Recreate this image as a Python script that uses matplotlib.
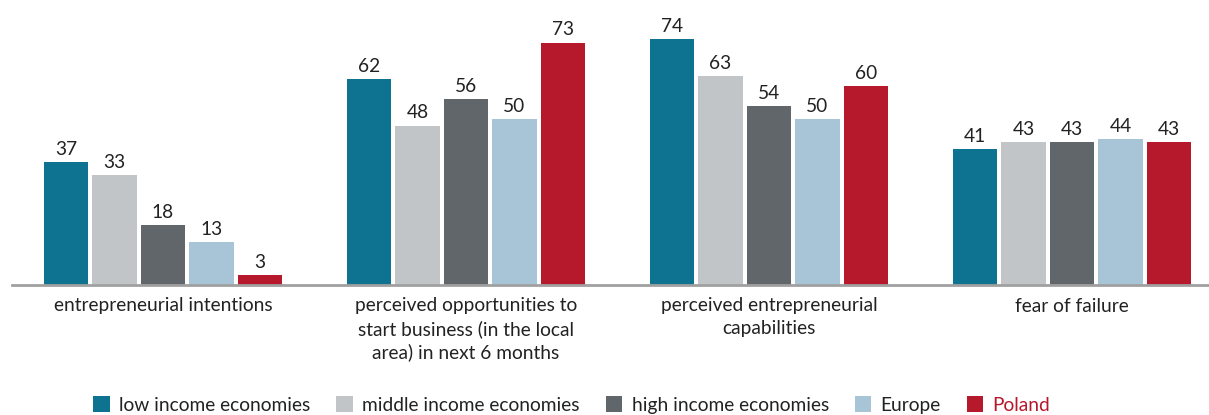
import matplotlib
matplotlib.use("Agg")
import matplotlib.pyplot as plt
import numpy as np
from matplotlib.patches import Patch

plt.rcParams['font.family'] = ['Lato', 'DejaVu Sans']

categories = [
    "entrepreneurial intentions",
    "perceived opportunities to\nstart business (in the local\narea) in next 6 months",
    "perceived entrepreneurial\ncapabilities",
    "fear of failure",
]
series_names = ["low income economies", "middle income economies",
                "high income economies", "Europe", "Poland"]
low_income = [37, 62, 74, 41]
middle_income = [33, 48, 63, 43]
high_income = [18, 56, 54, 43]
europe = [13, 50, 50, 44]
poland = [3, 73, 60, 43]

values = [low_income, middle_income, high_income, europe, poland]
colors = ["#0E7391", "#C2C5C8", "#61666A", "#A7C5D6", "#B5192B"]

FS = 13.8
W, H = 1209, 415
fig = plt.figure(figsize=(W / 100, H / 100), dpi=100)
left, right = 11.5, 1223.5
base_y, top_y = 285, 19.4
ax = fig.add_axes([left / W, (H - base_y) / H, (right - left) / W, (base_y - top_y) / H])

x = np.arange(len(categories))
step = 0.16
width = 0.148
for i, (vals, col) in enumerate(zip(values, colors)):
    pos = x + (i - 2) * step
    bars = ax.bar(pos, vals, width=width, color=col, zorder=2)
    for b, v in zip(bars, vals):
        ax.annotate(str(v), (b.get_x() + b.get_width() / 2, v),
                    xytext=(0, 3), textcoords="offset points",
                    ha="center", va="bottom", fontsize=FS, color="#222222")

ax.set_xlim(-0.5, len(categories) - 0.5)
ax.set_ylim(0, 80)
for s in ["top", "right", "left"]:
    ax.spines[s].set_visible(False)
ax.spines["bottom"].set_color("#A0A0A0")
ax.spines["bottom"].set_linewidth(2)
ax.set_yticks([])
ax.set_xticks(x)
ax.set_xticklabels(categories, fontsize=FS, color="#222222", linespacing=1.38)
ax.tick_params(axis="x", length=0, pad=9)

handles = [Patch(facecolor=c, edgecolor="none") for c in colors]
leg = fig.legend(handles, series_names, loc="lower center", ncol=5,
                 bbox_to_anchor=(0.473, -0.038), frameon=False, fontsize=FS,
                 handlelength=0.85, handleheight=0.85, handletextpad=0.5,
                 columnspacing=1.35)
leg.get_texts()[-1].set_color("#B5192B")
for t in leg.get_texts()[:-1]:
    t.set_color("#222222")

fig.savefig("out.png", dpi=100)
